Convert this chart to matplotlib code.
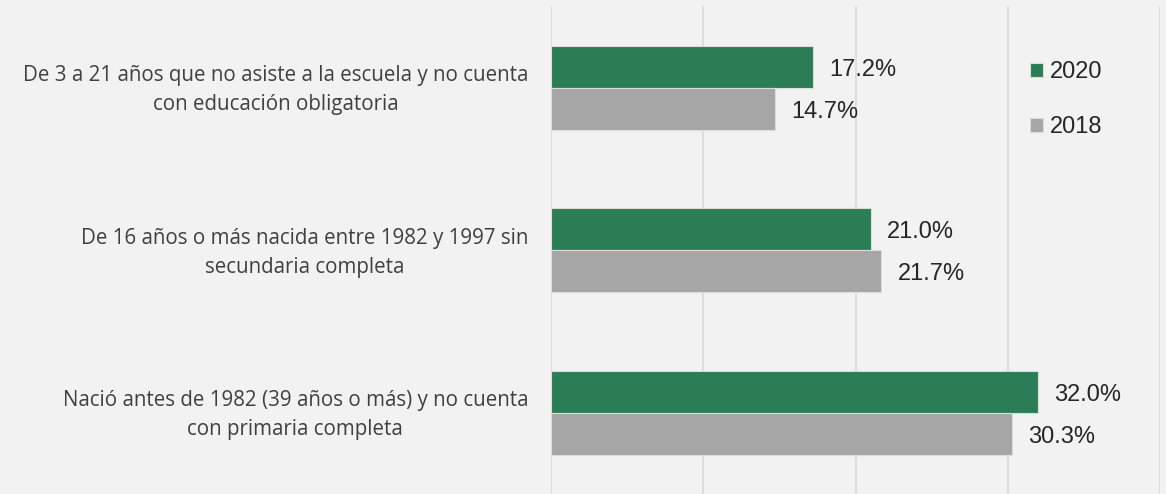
import matplotlib
matplotlib.use("Agg")
import matplotlib.pyplot as plt
import matplotlib.transforms as mtransforms
import numpy as np

categories = [
    "De 3 a 21 años que no asiste a la escuela y no cuenta\ncon educación obligatoria",
    "De 16 años o más nacida entre 1982 y 1997 sin\nsecundaria completa",
    "Nació antes de 1982 (39 años o más) y no cuenta\ncon primaria completa",
]
series_names = ["2020", "2018"]
values_2020 = [17.2, 21.0, 32.0]
values_2018 = [14.7, 21.7, 30.3]
xticks = [0, 10, 20, 30, 40]

W, H = 1166, 494
fig = plt.figure(figsize=(W / 100, H / 100), dpi=100, facecolor="#f2f2f2")
ax = fig.add_axes([551 / W, 0, (1160 - 551) / W, 1 - 6.5 / H])
ax.set_facecolor("#f2f2f2")

green = "#2a7d55"
gray = "#a6a6a6"
y = np.arange(len(categories))
h = 0.26
b1 = ax.barh(y - h / 2, values_2020, height=h, color=green, edgecolor="#dcdcdc", linewidth=0.8, label=series_names[0], zorder=3)
b2 = ax.barh(y + h / 2, values_2018, height=h, color=gray, edgecolor="#dcdcdc", linewidth=0.8, label=series_names[1], zorder=3)

for bars, vals in ((b1, values_2020), (b2, values_2018)):
    for bar, v in zip(bars, vals):
        ax.annotate(f"{v:.1f}%", (v, bar.get_y() + bar.get_height() / 2),
                    xytext=(16, -3), textcoords="offset pixels", ha="left", va="center",
                    fontsize=17, family="Liberation Sans", color="#262626")

ax.set_xlim(0, 40)
ax.set_ylim(len(categories) - 0.5, -0.5)
ax.set_xticks(xticks)
ax.set_xticklabels([])
ax.tick_params(axis="x", length=0)
ax.grid(axis="x", color="#d9d9d9", linewidth=1.2, zorder=0)
ax.set_yticks(y)
ax.set_yticklabels(categories, fontsize=14.8, family="Open Sans", color="#404040",
                   multialignment="center", linespacing=1.5)
ax.tick_params(axis="y", length=0, pad=16.5)
offset = mtransforms.ScaledTranslation(0, 4 / 100, fig.dpi_scale_trans)
for lbl in ax.get_yticklabels():
    lbl.set_transform(lbl.get_transform() + offset)
for s in ax.spines.values():
    s.set_visible(False)

leg = ax.legend(loc="upper left", bbox_to_anchor=((1030 - 551) / (1160 - 551), 1 - 55 / 488),
                frameon=False, prop={"family": "Liberation Sans", "size": 17},
                handlelength=0.55, handleheight=0.55, handletextpad=0.3, labelspacing=1.4,
                borderaxespad=0, borderpad=0)
for t in leg.get_texts():
    t.set_color("#262626")

fig.savefig("out.png", dpi=100, facecolor=fig.get_facecolor())
